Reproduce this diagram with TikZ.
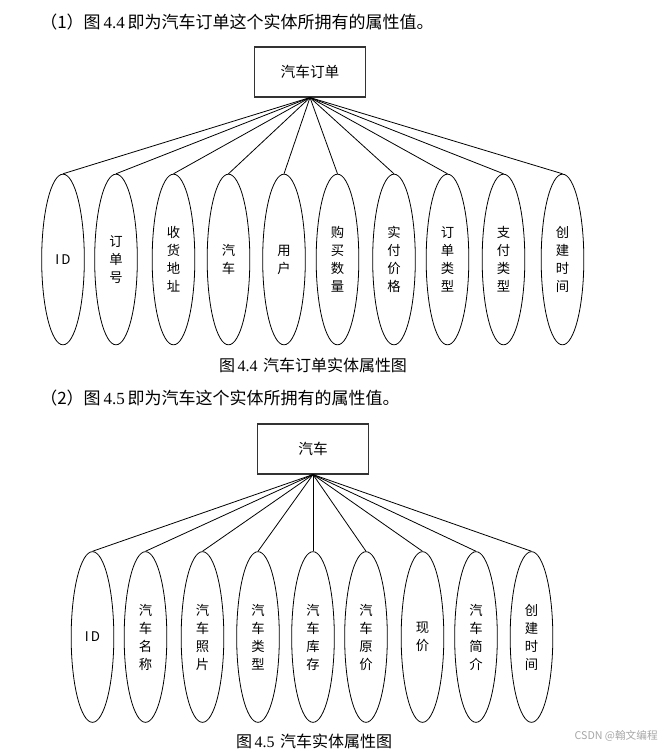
\documentclass[tikz,border=0pt]{standalone}
\usepackage{fontspec}
\setmainfont{Liberation Serif}
\newfontfamily\cjk{Noto Sans CJK SC}
\usepackage{tikz}
\usetikzlibrary{positioning,shapes.geometric}

\begin{document}
\begin{tikzpicture}[
    x=0.75pt, y=-0.75pt,
    entity/.style={draw=black!80, line width=0.8pt, minimum width=83pt,
                   minimum height=37.5pt, font=\cjk\fontsize{11}{13}\selectfont},
    attr/.style={ellipse, draw, line width=0.6pt, inner sep=0pt,
                 minimum width=32pt, minimum height=128pt, align=center,
                 font=\cjk\fontsize{10}{13.5}\selectfont},
    link/.style={line width=0.6pt},
    heading/.style={anchor=west, inner sep=0pt, font=\fontsize{12.75}{15}\selectfont},
    caption/.style={inner sep=0pt, font=\fontsize{12}{14}\selectfont},
  ]
  \useasboundingbox (0,0) rectangle (667,751);

  %% Heading (1)
  \node[heading] (head1) at (40,22)
    {{\cjk （1）图}\,4.4\,{\cjk 即为汽车订单这个实体所拥有的属性值。}};

  %% Entity: car order
  \node[entity] (order) at (310,72) {汽车订单};

  %% Attributes of car order
  \node[attr] (o1) at (63,259.5)    {I\,D};
  \node[attr] (o2) at (116,259.5)   {订\\单\\号};
  \node[attr] (o3) at (173.5,259.5) {收\\货\\地\\址};
  \node[attr] (o4) at (228.5,259.5) {汽\\车};
  \node[attr] (o5) at (284,259.5)   {用\\户};
  \node[attr] (o6) at (337.5,259.5) {购\\买\\数\\量};
  \node[attr] (o7) at (394,259.5)   {实\\付\\价\\格};
  \node[attr] (o8) at (447.5,259.5) {订\\单\\类\\型};
  \node[attr] (o9) at (503.5,259.5) {支\\付\\类\\型};
  \node[attr] (o10) at (562.5,259.5) {创\\建\\时\\间};

  %% Links from car order
  \draw[link] (order.south) -- (o1.north);
  \draw[link] (order.south) -- (o2.north);
  \draw[link] (order.south) -- (o3.north);
  \draw[link] (order.south) -- (o4.north);
  \draw[link] (order.south) -- (o5.north);
  \draw[link] (order.south) -- (o6.north);
  \draw[link] (order.south) -- (o7.north);
  \draw[link] (order.south) -- (o8.north);
  \draw[link] (order.south) -- (o9.north);
  \draw[link] (order.south) -- (o10.north);

  \node[caption] (cap1) at (313,365) {{\cjk 图}\,4.4\,\,{\cjk 汽车订单实体属性图}};

  %% Heading (2)
  \node[heading] (head2) at (40,398)
    {{\cjk （2）图}\,4.5\,{\cjk 即为汽车这个实体所拥有的属性值。}};

  %% Entity: car
  \node[entity] (car) at (313,449) {汽车};

  %% Attributes of car
  \node[attr] (c1) at (92.5,637)  {I\,D};
  \node[attr] (c2) at (145.5,637) {汽\\车\\名\\称};
  \node[attr] (c3) at (202.5,637) {汽\\车\\照\\片};
  \node[attr] (c4) at (258,637)   {汽\\车\\类\\型};
  \node[attr] (c5) at (313,637)   {汽\\车\\库\\存};
  \node[attr] (c6) at (366,637)   {汽\\车\\原\\价};
  \node[attr] (c7) at (422.5,637) {现\\价};
  \node[attr] (c8) at (476,637)   {汽\\车\\简\\介};
  \node[attr] (c9) at (531.5,637) {创\\建\\时\\间};

  %% Links from car
  \draw[link] (car.south) -- (c1.north);
  \draw[link] (car.south) -- (c2.north);
  \draw[link] (car.south) -- (c3.north);
  \draw[link] (car.south) -- (c4.north);
  \draw[link] (car.south) -- (c5.north);
  \draw[link] (car.south) -- (c6.north);
  \draw[link] (car.south) -- (c7.north);
  \draw[link] (car.south) -- (c8.north);
  \draw[link] (car.south) -- (c9.north);

  \node[caption] (cap2) at (314,741) {{\cjk 图}\,4.5\,\,{\cjk 汽车实体属性图}};

  %% watermark
  \node[anchor=east, inner sep=0pt, text=black!35, font=\cjk\fontsize{8}{10}\selectfont]
    (mark) at (658,736) {CSDN @翰文编程};
\end{tikzpicture}
\end{document}
